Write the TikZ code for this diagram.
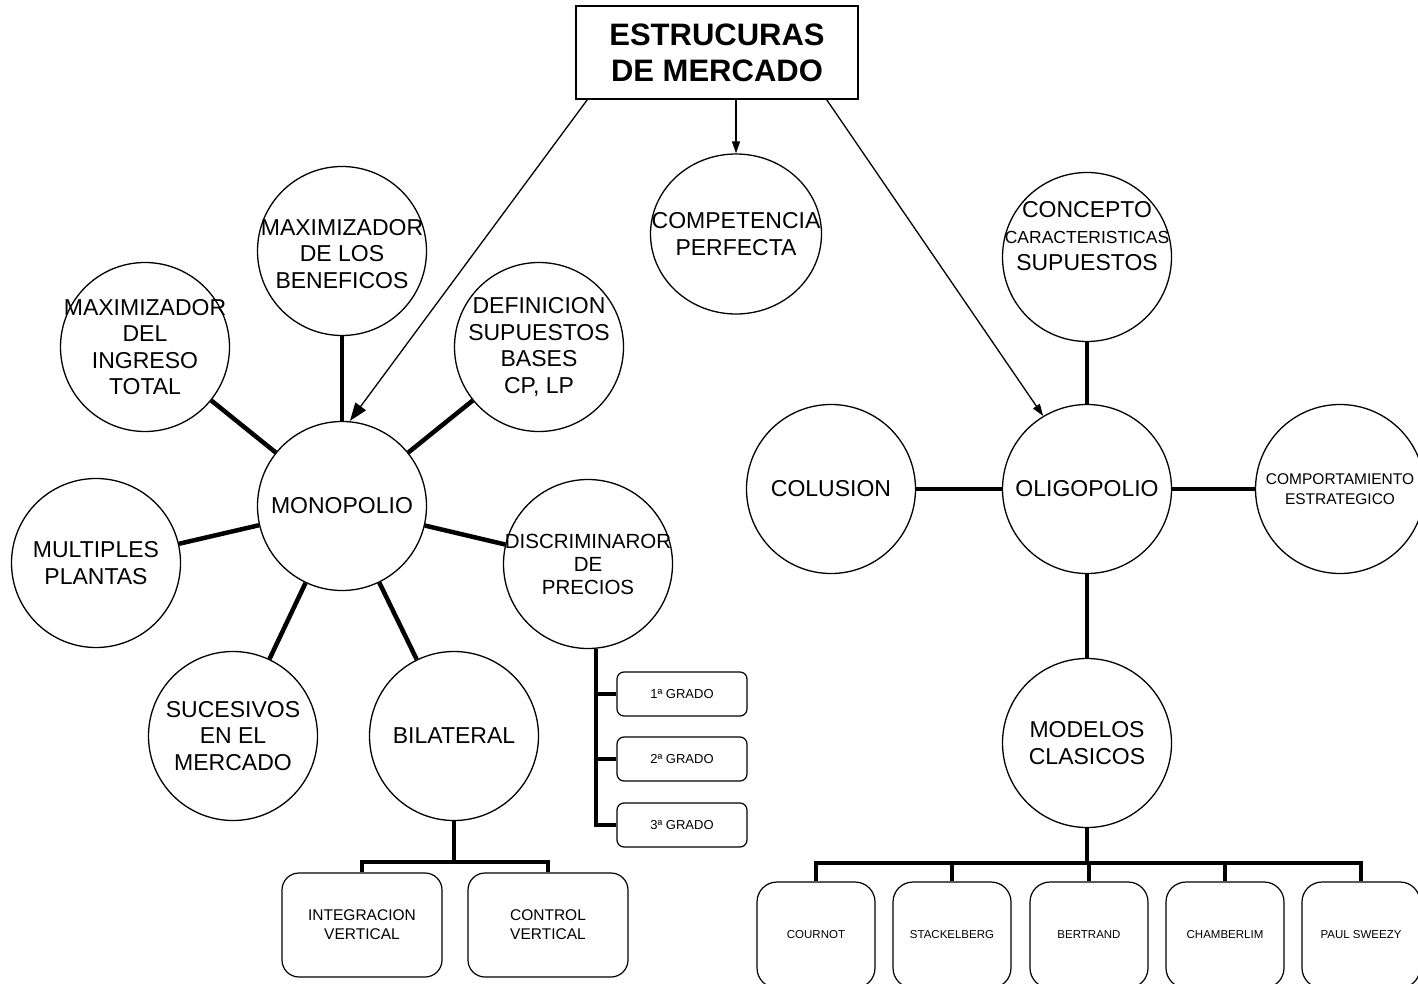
\documentclass[tikz,border=0pt]{standalone}
\usepackage{fontspec}
\setmainfont{Liberation Sans}
\usetikzlibrary{arrows.meta, positioning, shapes.geometric}

\newcommand{\bubfont}{\fontsize{23}{26.5}\selectfont}
\newcommand{\midfont}{\fontsize{20.5}{23}\selectfont}
\newcommand{\notefont}{\fontsize{15.5}{19.5}\selectfont}

\tikzset{
  bubble/.style={circle, draw, line width=1.3pt, minimum size=169pt, inner sep=0pt},
  bubtext/.style={align=center, inner sep=0pt},
  link/.style={line width=4.5pt},
  tree/.style={line width=4.5pt},
  arr/.style={line width=1.3pt, -{Triangle[length=12pt,width=8pt]}},
  bigarr/.style={line width=1.3pt, -{Triangle[length=18pt,width=13pt]}},
  titlebox/.style={draw, line width=1.2pt, minimum width=282pt, minimum height=93pt,
                   align=center, font=\bfseries\fontsize{31}{36}\selectfont},
  gradebox/.style={draw, line width=1.2pt, rounded corners=7pt, minimum width=130pt,
                   minimum height=44pt, font=\fontsize{13}{15}\selectfont},
  subbox/.style={draw, line width=1.2pt, rounded corners=17pt, minimum width=160pt,
                 minimum height=104pt, align=center, font=\fontsize{15.5}{19}\selectfont},
  modelbox/.style={draw, line width=1.2pt, rounded corners=20pt, minimum width=118pt,
                   minimum height=106pt, font=\fontsize{11.5}{14}\selectfont}
}

\begin{document}
\begin{tikzpicture}[x=1pt, y=-1pt]
    \clip (0,0) rectangle (1418,984);

    \node[titlebox] (title) at (717,52.5) {ESTRUCURAS\\DE MERCADO};

    % circles
    \foreach \nm/\pos/\dy/\fnt/\txt in {
      mono/{342,506}/0pt/\bubfont/{MONOPOLIO},
      maxben/{342,251}/-3pt/\bubfont/{MAXIMIZADOR\\DE LOS\\BENEFICOS},
      maxing/{145,347}/0pt/\bubfont/{MAXIMIZADOR\\DEL\\INGRESO\\TOTAL},
      defin/{539,347}/0pt/\bubfont/{DEFINICION\\SUPUESTOS\\BASES\\CP, LP},
      multi/{96,563}/0pt/\bubfont/{MULTIPLES\\PLANTAS},
      suces/{233,736}/0pt/\bubfont/{SUCESIVOS\\EN EL\\MERCADO},
      bil/{454,736}/0pt/\bubfont/{BILATERAL},
      disc/{588,564}/0pt/\midfont/{DISCRIMINAROR\\DE\\PRECIOS},
      concep/{1087,257}/21pt/\bubfont/{CONCEPTO\\{\fontsize{17.5}{20}\selectfont CARACTERISTICAS}\\SUPUESTOS},
      oligo/{1087,489}/0pt/\bubfont/{OLIGOPOLIO},
      colus/{831,489}/0pt/\bubfont/{COLUSION},
      comport/{1340,489}/0pt/\notefont/{COMPORTAMIENTO\\ESTRATEGICO},
      modelos/{1087,743}/0pt/\bubfont/{MODELOS\\CLASICOS}%
    }{
      \node[bubble] (\nm) at (\pos) {};
      \node[bubtext, font=\fnt, yshift=\dy] (\nm-t) at (\nm) {\txt};
    }
    \node[ellipse, draw, line width=1.3pt, minimum width=171pt, minimum height=160pt,
          inner sep=0pt] (comp) at (736,234) {};
    \node[bubtext, font=\bubfont] (comp-t) at (comp) {COMPETENCIA\\PERFECTA};

    % arrows from the title
    \draw[bigarr] ([xshift=12pt]title.south west) -- ([xshift=8pt]mono.north);
    \draw[arr] (comp.north |- title.south) -- (comp.north);
    \draw[arr] ([xshift=-32pt]title.south east) -- (oligo.121);

    % links
    \foreach \b in {maxben, maxing, defin, multi, suces, bil, disc}
      \draw[link] (mono) -- (\b);
    \foreach \b in {concep, colus, comport, modelos}
      \draw[link] (oligo) -- (\b);

    % price discrimination degrees
    \foreach \g/\y in {1/694, 2/759, 3/825}
      \node[gradebox] (g\g) at (682,\y) {\g ª GRADO};
    \coordinate (trunk) at ([xshift=8pt]disc.south);
    \draw[tree] (trunk) |- (g3.west);
    \foreach \g in {1,2}
      \draw[tree] (g\g.west) -- (g\g.west -| trunk);

    % bilateral
    \node[subbox] (integ) at (362,925) {INTEGRACION\\VERTICAL};
    \node[subbox] (control) at (548,925) {CONTROL\\VERTICAL};
    \coordinate (bbus) at ([yshift=-41pt]bil.south);
    \draw[tree] (bil.south) -- (bbus);
    \draw[tree] (integ.north) |- (bbus) -| (control.north);

    % classic models
    \foreach \nm/\x/\txt in {cournot/816/COURNOT, stack/952/STACKELBERG,
        bert/1089/BERTRAND, chamb/1225/CHAMBERLIM, sweezy/1361/PAUL SWEEZY}
      \node[modelbox] (\nm) at (\x,935) {\txt};
    \coordinate (mbus) at ([yshift=-35pt]modelos.south);
    \draw[tree] (modelos.south) -- (mbus);
    \draw[tree] (cournot.north) |- (mbus) -| (sweezy.north);
    \foreach \m in {stack, bert, chamb}
      \draw[tree] (\m.north) -- (\m.north |- mbus);
\end{tikzpicture}
\end{document}
